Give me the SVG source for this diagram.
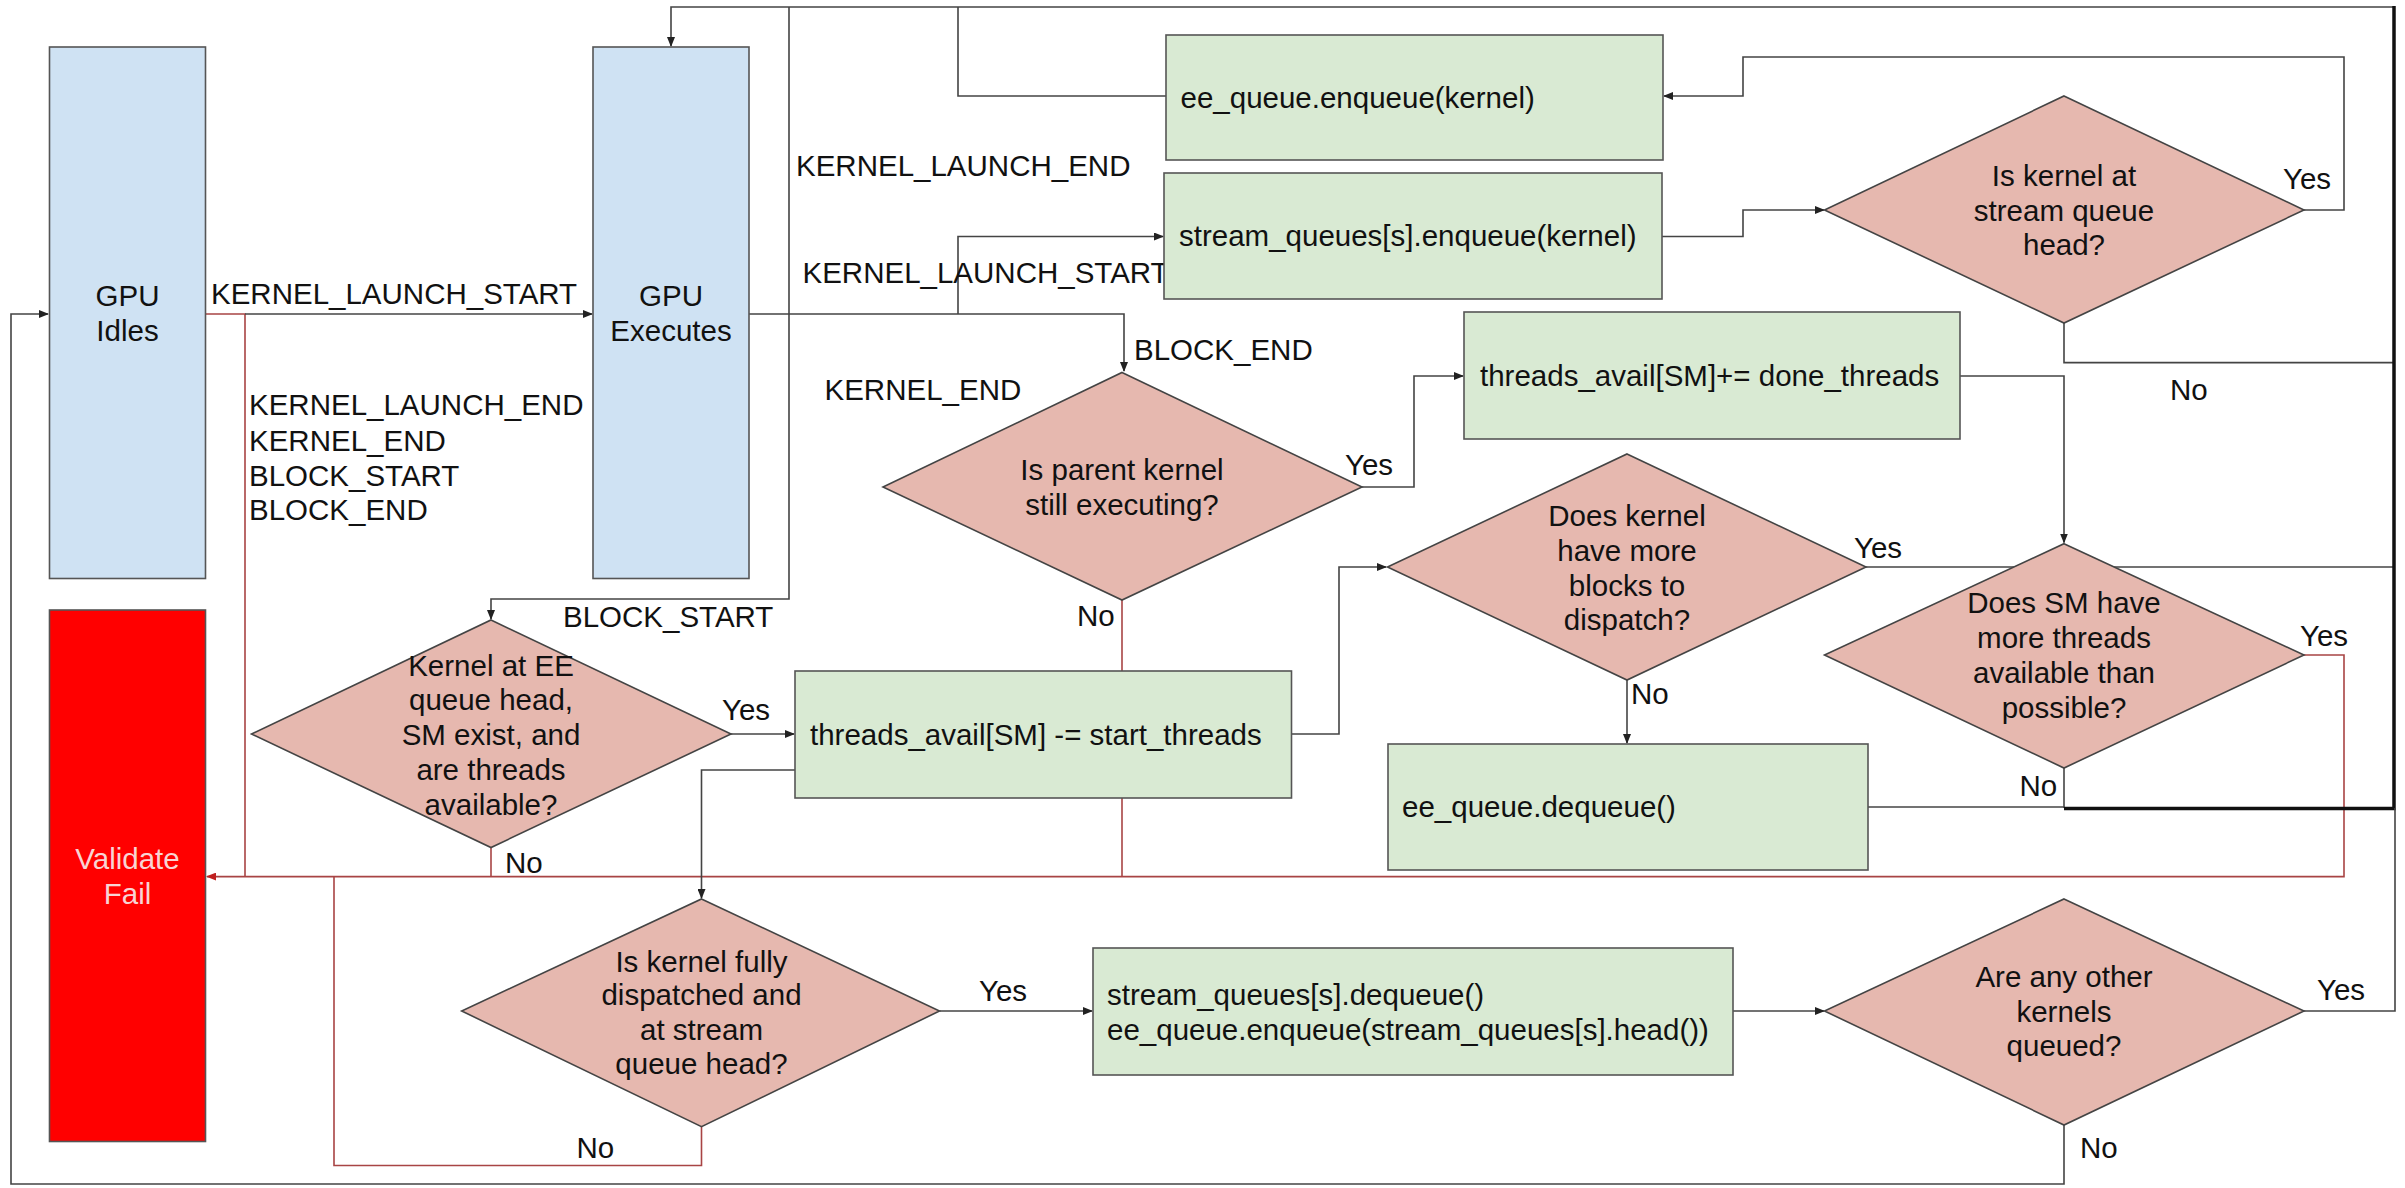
<svg xmlns="http://www.w3.org/2000/svg" width="2405" height="1188" viewBox="0 0 2405 1188">
<defs>
<style>
text{font-family:"Liberation Sans",Arial,sans-serif;font-size:29.5px;fill:#111}
.mid{text-anchor:middle}
.blue{fill:#cfe2f3;stroke:#555;stroke-width:1.6}
.green{fill:#d9ead3;stroke:#555;stroke-width:1.6}
.dia{fill:#e6b8af;stroke:#444;stroke-width:1.6}
.fail{fill:#ff0000;stroke:#555;stroke-width:1.6}
.ln{fill:none;stroke:#444;stroke-width:1.6}
.thick{fill:none;stroke:#111;stroke-width:3.5}
.red{fill:none;stroke:#a84444;stroke-width:1.6}
.ftxt{fill:#f8d4d4}
</style>
<marker id="ah" markerWidth="10" markerHeight="8" refX="9" refY="4" orient="auto" markerUnits="userSpaceOnUse"><path d="M0,0 L10,4 L0,8 Z" fill="#222"/></marker>
<marker id="ahr" markerWidth="10" markerHeight="8" refX="9" refY="4" orient="auto" markerUnits="userSpaceOnUse"><path d="M0,0 L10,4 L0,8 Z" fill="#c02020"/></marker>
</defs>
<rect width="2405" height="1188" fill="#fff"/>
<g id="connectors">
<path class="red" d="M206,314 H245 V876.6"/>
<path class="red" d="M2304,655 H2344 V876.6 H207" marker-end="url(#ahr)"/>
<path class="red" d="M1122,600 V876.6"/>
<path class="red" d="M491,847.5 V876.6"/>
<path class="red" d="M701.5,1126.7 V1165.5 H334 V876.6"/>
<path class="ln" d="M245,314 H592" marker-end="url(#ah)"/>
<path class="ln" d="M2064,1125 V1184 H11 V314 H48" marker-end="url(#ah)"/>
<path class="ln" d="M749,314 H1124 V371" marker-end="url(#ah)"/>
<path class="ln" d="M958,314 V236.5 H1163" marker-end="url(#ah)"/>
<path class="ln" d="M789,7 V599 H491 V619" marker-end="url(#ah)"/>
<path class="ln" d="M2394,7 H671 V46" marker-end="url(#ah)"/>
<path class="ln" d="M1166,96 H958 V7"/>
<path class="ln" d="M1662,236.5 H1743 V210 H1824" marker-end="url(#ah)"/>
<path class="ln" d="M2304,210 H2344 V57 H1743 V96 H1664" marker-end="url(#ah)"/>
<path class="ln" d="M2064,323 V362.6 H2394"/>
<path class="ln" d="M1866,567 H2394"/>
<path class="ln" d="M1868,807 H2064"/>
<path class="ln" d="M2064,768 V808"/>
<path class="thick" d="M2064,808.5 H2394 V6"/>
<path class="ln" d="M2395,808 V1011 H2304"/>
<path class="ln" d="M1960,376 H2064 V542.5" marker-end="url(#ah)"/>
<path class="ln" d="M1362,487 H1414 V376 H1463" marker-end="url(#ah)"/>
<path class="ln" d="M731,734 H794" marker-end="url(#ah)"/>
<path class="ln" d="M1291.5,734 H1339 V567 H1386" marker-end="url(#ah)"/>
<path class="ln" d="M795,770 H701.5 V898" marker-end="url(#ah)"/>
<path class="ln" d="M1627,680 V743" marker-end="url(#ah)"/>
<path class="ln" d="M939.5,1011 H1092" marker-end="url(#ah)"/>
<path class="ln" d="M1733,1011 H1824" marker-end="url(#ah)"/>
</g>
<g id="labels">
<text x="211" y="304">KERNEL_LAUNCH_START</text>
<text x="249" y="415">KERNEL_LAUNCH_END</text>
<text x="249" y="451">KERNEL_END</text>
<text x="249" y="486">BLOCK_START</text>
<text x="249" y="520">BLOCK_END</text>
<text x="796" y="176">KERNEL_LAUNCH_END</text>
<text x="802.5" y="283">KERNEL_LAUNCH_START</text>
<text x="1134" y="360">BLOCK_END</text>
<text x="824.5" y="400">KERNEL_END</text>
<text x="563" y="626.5">BLOCK_START</text>
<text x="722" y="720">Yes</text>
<text x="1345" y="474.5">Yes</text>
<text x="2283" y="189">Yes</text>
<text x="1854" y="557.5">Yes</text>
<text x="2300" y="646">Yes</text>
<text x="979" y="1000.7">Yes</text>
<text x="2317" y="999.5">Yes</text>
<text x="505" y="873">No</text>
<text x="1077" y="626">No</text>
<text x="2170" y="400">No</text>
<text x="1631" y="704">No</text>
<text x="2019.5" y="796">No</text>
<text x="576.5" y="1158">No</text>
<text x="2080" y="1158">No</text>
</g>
<g id="gpu-idles"><rect class="blue" x="49.5" y="47" width="156" height="531.5"/><text class="mid" x="127.5" y="306">GPU</text><text class="mid" x="127.5" y="341">Idles</text></g>
<g id="gpu-executes"><rect class="blue" x="593" y="47" width="156" height="531.5"/><text class="mid" x="671" y="306">GPU</text><text class="mid" x="671" y="341">Executes</text></g>
<g id="validate-fail"><rect class="fail" x="49.5" y="610" width="156" height="531.5"/><text class="mid ftxt" x="127.5" y="869">Validate</text><text class="mid ftxt" x="127.5" y="904">Fail</text></g>
<g id="ee-enqueue"><rect class="green" x="1166" y="35" width="497" height="125"/><text x="1180.5" y="107.5">ee_queue.enqueue(kernel)</text></g>
<g id="stream-enqueue"><rect class="green" x="1164" y="173" width="498" height="126"/><text x="1179" y="246">stream_queues[s].enqueue(kernel)</text></g>
<g id="threads-add"><rect class="green" x="1464" y="312" width="496" height="127"/><text x="1480" y="385.5">threads_avail[SM]+= done_threads</text></g>
<g id="threads-sub"><rect class="green" x="795" y="671" width="496.5" height="127"/><text x="810" y="745">threads_avail[SM] -= start_threads</text></g>
<g id="ee-dequeue"><rect class="green" x="1388" y="744" width="480" height="126"/><text x="1402" y="816.5">ee_queue.dequeue()</text></g>
<g id="stream-dequeue"><rect class="green" x="1093" y="948" width="640" height="127"/><text x="1107" y="1004.6">stream_queues[s].dequeue()</text><text x="1107" y="1039.5">ee_queue.enqueue(stream_queues[s].head())</text></g>
<g id="d-stream-head"><path class="dia" d="M2064,96 L2304,210 L2064,323 L1824.5,210 Z"/><text class="mid" x="2064" y="186">Is kernel at</text><text class="mid" x="2064" y="221">stream queue</text><text class="mid" x="2064" y="255">head?</text></g>
<g id="d-parent"><path class="dia" d="M1122,372.5 L1362,487 L1122,600 L883,487 Z"/><text class="mid" x="1122" y="480">Is parent kernel</text><text class="mid" x="1122" y="515">still executing?</text></g>
<g id="d-more-blocks"><path class="dia" d="M1627,454 L1866,567 L1627,680 L1387.5,567 Z"/><text class="mid" x="1627" y="526">Does kernel</text><text class="mid" x="1627" y="561">have more</text><text class="mid" x="1627" y="595.5">blocks to</text><text class="mid" x="1627" y="630">dispatch?</text></g>
<g id="d-sm-threads"><path class="dia" d="M2064,543.7 L2304,655 L2064,768 L1824.5,655 Z"/><text class="mid" x="2064" y="613">Does SM have</text><text class="mid" x="2064" y="648">more threads</text><text class="mid" x="2064" y="683">available than</text><text class="mid" x="2064" y="717.6">possible?</text></g>
<g id="d-ee-head"><path class="dia" d="M491,620 L731,734 L491,847.5 L251.5,734 Z"/><text class="mid" x="491" y="676">Kernel at EE</text><text class="mid" x="491" y="710">queue head,</text><text class="mid" x="491" y="745">SM exist, and</text><text class="mid" x="491" y="780">are threads</text><text class="mid" x="491" y="815">available?</text></g>
<g id="d-fully-dispatched"><path class="dia" d="M701.5,899 L939.5,1011 L701.5,1126.7 L461.7,1011 Z"/><text class="mid" x="701.5" y="971.6">Is kernel fully</text><text class="mid" x="701.5" y="1005.4">dispatched and</text><text class="mid" x="701.5" y="1040">at stream</text><text class="mid" x="701.5" y="1074.4">queue head?</text></g>
<g id="d-other-kernels"><path class="dia" d="M2064,899 L2304,1011 L2064,1125 L1824.5,1011 Z"/><text class="mid" x="2064" y="987">Are any other</text><text class="mid" x="2064" y="1022">kernels</text><text class="mid" x="2064" y="1056">queued?</text></g>
</svg>
